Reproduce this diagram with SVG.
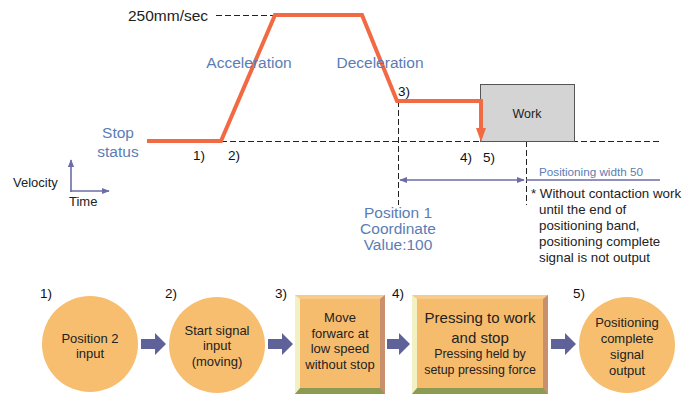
<svg xmlns="http://www.w3.org/2000/svg" width="689" height="394" viewBox="0 0 689 394">
<defs>
<style>
text{font-family:"Liberation Sans",Arial,sans-serif;}
.blk{fill:#222;}
.blue{fill:#5B7DB5;font-size:15.5px;}
.dash{stroke:#222;stroke-width:1;stroke-dasharray:6,3;fill:none;}
.prof{stroke:#F26A43;stroke-width:4;fill:none;stroke-linejoin:miter;}
.ax{stroke:#6B6EA6;stroke-width:1.6;fill:none;}
.circ{fill:#F6BE6E;}
.boxf{fill:#F6BC6E;}
.bt{fill:#F8CB8A;}
.bl{fill:#F1F1C4;}
.br{fill:#C8906C;}
.bb{fill:#8C9A52;}
.barr{fill:#5F6299;}
.n{font-size:13.5px;fill:#111;}
.c{font-size:13px;fill:#222;text-anchor:middle;}
.note{font-size:13.3px;fill:#222;}
</style>
<marker id="ah" viewBox="0 0 10 10" refX="9" refY="5" markerWidth="8" markerHeight="8" orient="auto-start-reverse" markerUnits="userSpaceOnUse">
<path d="M0,1 L10,5 L0,9 z" fill="#6B6EA6"/>
</marker>
</defs>

<g id="connectors">
<line class="dash" x1="216" y1="15.5" x2="273" y2="15.5"/>
<line class="dash" x1="221" y1="141.5" x2="660" y2="141.5"/>
<line class="dash" x1="398.5" y1="101" x2="398.5" y2="205"/>
<line class="dash" x1="526.5" y1="141" x2="526.5" y2="205"/>
<line class="ax" x1="400" y1="180" x2="524" y2="180" marker-start="url(#ah)" marker-end="url(#ah)"/>
<line class="ax" x1="526" y1="180" x2="660" y2="180"/>
<line class="ax" x1="71" y1="192" x2="71" y2="160" marker-end="url(#ah)"/>
<line class="ax" x1="70" y1="191" x2="109" y2="191" marker-end="url(#ah)"/>
<polygon class="barr" points="141,339 155,339 155,333 166,344 155,355 155,349 141,349"/>
<polygon class="barr" points="268,339 282,339 282,333 293,344 282,355 282,349 268,349"/>
<polygon class="barr" points="387,339 399,339 399,333 410,344 399,355 399,349 387,349"/>
<polygon class="barr" points="551,339 565,339 565,333 576,344 565,355 565,349 551,349"/>
</g>

<g id="work">
<rect x="480.5" y="84.5" width="94" height="57" fill="#D4D4D4" stroke="#555" stroke-width="1"/>
<text x="527" y="118" font-size="12.5" text-anchor="middle" class="blk">Work</text>
</g>

<g id="profile">
<polyline class="prof" points="147,141 221,141 275,15 362,15 397,101 481,101 481,130"/>
<polygon points="476,128 486,128 481,142" fill="#F26A43"/>
</g>

<g id="labels">
<text x="128" y="21" font-size="15.5" class="blk">250mm/sec</text>
<text x="249" y="68" class="blue" text-anchor="middle">Acceleration</text>
<text x="380" y="68" class="blue" text-anchor="middle">Deceleration</text>
<text x="118" y="138" class="blue" text-anchor="middle">Stop</text>
<text x="118" y="157" class="blue" text-anchor="middle">status</text>
<text x="193" y="160" class="n">1)</text>
<text x="228" y="160" class="n">2)</text>
<text x="398" y="96" class="n">3)</text>
<text x="460" y="162" class="n">4)</text>
<text x="483" y="162" class="n">5)</text>
<text x="539" y="176" font-size="11.7" fill="#5B7DB5">Positioning width 50</text>
<text x="531" y="198" class="note">* Without contaction work</text>
<text x="539" y="214" class="note">until the end of</text>
<text x="539" y="230" class="note">positioning band,</text>
<text x="539" y="246" class="note">positioning complete</text>
<text x="539" y="262" class="note">signal is not output</text>
<text x="398" y="218" class="blue" text-anchor="middle">Position 1</text>
<text x="398" y="234" class="blue" text-anchor="middle">Coordinate</text>
<text x="398" y="250" class="blue" text-anchor="middle">Value:100</text>
<text x="13" y="187" font-size="13" class="blk">Velocity</text>
<text x="69" y="206" font-size="13" class="blk">Time</text>
<text x="40" y="298" class="n">1)</text>
<text x="165" y="298" class="n">2)</text>
<text x="275" y="298" class="n">3)</text>
<text x="392" y="298" class="n">4)</text>
<text x="573" y="298" class="n">5)</text>
</g>

<g id="step1">
<circle class="circ" cx="90" cy="344" r="48"/>
<text class="c" x="90" y="343">Position 2</text>
<text class="c" x="90" y="358">input</text>
</g>

<g id="step2">
<circle class="circ" cx="217" cy="345" r="48"/>
<text class="c" x="217" y="335">Start signal</text>
<text class="c" x="217" y="350">input</text>
<text class="c" x="217" y="366">(moving)</text>
</g>

<g id="step3">
<rect class="boxf" x="295" y="295" width="90" height="99"/>
<polygon class="bt" points="295,295 385,295 380,299 300,299"/>
<polygon class="bl" points="295,295 300,299 300,389 295,394"/>
<polygon class="br" points="385,295 385,394 380,389 380,299"/>
<polygon class="bb" points="295,394 300,388 380,388 385,394"/>
<text class="c" x="340" y="322">Move</text>
<text class="c" x="340" y="338">forwarc at</text>
<text class="c" x="340" y="353">low speed</text>
<text class="c" x="340" y="369">without stop</text>
</g>

<g id="step4">
<rect class="boxf" x="412" y="295" width="136" height="99"/>
<polygon class="bt" points="412,295 548,295 543,299 417,299"/>
<polygon class="bl" points="412,295 417,299 417,389 412,394"/>
<polygon class="br" points="548,295 548,394 543,389 543,299"/>
<polygon class="bb" points="412,394 417,388 543,388 548,394"/>
<text x="480" y="323" font-size="15" text-anchor="middle" class="blk">Pressing to work</text>
<text x="480" y="343" font-size="15" text-anchor="middle" class="blk">and stop</text>
<text x="480" y="358" font-size="12.4" text-anchor="middle" class="blk">Pressing held by</text>
<text x="480" y="374" font-size="12.4" text-anchor="middle" class="blk">setup pressing force</text>
</g>

<g id="step5">
<circle class="circ" cx="627" cy="345" r="48"/>
<text class="c" x="627" y="327">Positioning</text>
<text class="c" x="627" y="343">complete</text>
<text class="c" x="627" y="359">signal</text>
<text class="c" x="627" y="375">output</text>
</g>
</svg>
